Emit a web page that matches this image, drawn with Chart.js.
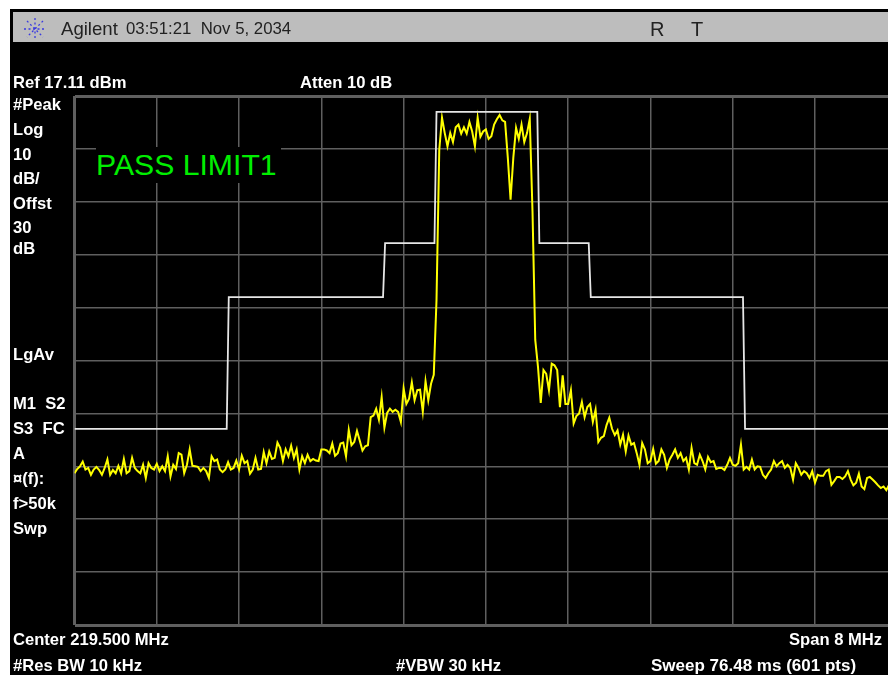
<!DOCTYPE html>
<html>
<head>
<meta charset="utf-8">
<title>Agilent spectrum trace</title>
<script src="https://cdn.jsdelivr.net/npm/chart.js@4"></script>
<style>
  html, body { margin: 0; padding: 0; background: #fff; overflow: hidden; }
  #screen { position: absolute; left: 10px; top: 9px; width: 878px; height: 666px; background: #000; }
  #header { position: absolute; left: 13px; top: 12px; width: 875px; height: 30px; background: #bdbdbd; }
  #plot { position: absolute; left: 0; top: 0; }
  .t { position: absolute; font-family: "Liberation Sans", Arial, sans-serif; white-space: pre; line-height: 20px; height: 20px; transform-origin: left center; }
  .w { color: #fff; font-weight: bold; font-size: 16.6px; }
  .h { color: #222; font-size: 18px; top: 19px; }
  #pass { left: 96px; top: 147px; height: 36px; line-height: 36px; padding-right: 4px; background: #000; color: #00ee00; font-size: 30.2px; }
  #logo { position: absolute; left: 23px; top: 17px; }
</style>
</head>
<body>
<div id="screen"></div>
<div id="header"></div>
<canvas id="plot" width="888" height="675"></canvas>

<svg id="logo" width="24" height="24" viewBox="0 0 24 24">
  <g stroke="#3a3ae0" stroke-width="1.3" stroke-dasharray="2 2.5">
    <line x1="12" y1="1" x2="12" y2="23"/><line x1="1" y1="12" x2="23" y2="12"/>
    <line x1="4" y1="4" x2="20" y2="20"/><line x1="20" y1="4" x2="4" y2="20"/>
  </g>
</svg>
<div class="t h" style="left:61px;font-size:18.6px">Agilent</div>
<div class="t h" style="left:126px;font-size:16.8px">03:51:21  Nov 5, 2034</div>
<div class="t h" style="left:650px;font-size:20px">R</div>
<div class="t h" style="left:691px;font-size:20px">T</div>

<div class="t w" style="left:13px;top:73px">Ref 17.11 dBm</div>
<div class="t w" style="left:300px;top:73px">Atten 10 dB</div>
<div class="t w" style="left:13px;top:95px">#Peak</div>
<div class="t w" style="left:13px;top:120px">Log</div>
<div class="t w" style="left:13px;top:145px">10</div>
<div class="t w" style="left:13px;top:169px">dB/</div>
<div class="t w" style="left:13px;top:194px">Offst</div>
<div class="t w" style="left:13px;top:218px">30</div>
<div class="t w" style="left:13px;top:239px">dB</div>
<div class="t w" style="left:13px;top:345px">LgAv</div>
<div class="t w" style="left:13px;top:394px">M1  S2</div>
<div class="t w" style="left:13px;top:419px">S3  FC</div>
<div class="t w" style="left:13px;top:444px">A</div>
<div class="t w" style="left:13px;top:469px">¤(f):</div>
<div class="t w" style="left:13px;top:494px">f&gt;50k</div>
<div class="t w" style="left:13px;top:519px">Swp</div>
<div class="t w" style="left:13px;top:630px">Center 219.500 MHz</div>
<div class="t w" style="left:789px;top:630px">Span 8 MHz</div>
<div class="t w" style="left:13px;top:656px">#Res BW 10 kHz</div>
<div class="t w" style="left:396px;top:656px">#VBW 30 kHz</div>
<div class="t w" style="left:651px;top:656px;font-size:17px">Sweep 76.48 ms (601 pts)</div>
<div class="t" id="pass">PASS LIMIT1</div>

<script>
const startFreq = 215.5;
const stopFreq = 223.41;   // the screenshot cuts the last division short
const sampleStep = 0.026667;

const freqTicks = [215.5, 216.3, 217.1, 217.9, 218.7, 219.5, 220.3, 221.1, 221.9, 222.7];
const levelTicks = [17.11, 7.11, -2.89, -12.89, -22.89, -32.89, -42.89, -52.89, -62.89, -72.89, -82.89];

// peak trace in dBm, every second sweep point
const traceLevels = [
  -54.2, -53.4, -52.9, -52.0, -53.5, -53.2, -54.5, -53.5, -53.0, -53.6,
  -54.5, -53.2, -51.6, -54.5, -53.6, -54.2, -52.8, -54.2, -51.5, -54.2,
  -53.8, -51.3, -53.2, -53.8, -54.2, -52.6, -55.1, -52.3, -53.2, -53.5,
  -52.4, -53.8, -52.9, -53.8, -51.0, -54.8, -52.6, -53.4, -50.4, -50.7,
  -54.2, -52.6, -49.7, -52.8, -52.9, -53.0, -53.8, -53.2, -53.8, -55.1,
  -51.0, -51.9, -51.6, -53.5, -54.0, -53.5, -52.1, -53.5, -53.2, -51.8,
  -53.5, -50.9, -52.3, -51.9, -54.3, -53.5, -51.3, -53.5, -53.4, -50.2,
  -52.3, -50.1, -51.5, -51.3, -48.4, -49.4, -51.9, -49.7, -51.0, -49.0,
  -51.3, -49.7, -53.5, -51.0, -52.3, -50.7, -51.9, -51.5, -51.8, -51.9,
  -49.7, -49.7, -49.9, -50.4, -48.6, -50.9, -50.4, -48.6, -48.4, -51.0,
  -46.0,
  -48.9, -48.3, -46.2, -48.0, -49.9, -49.1, -48.9, -43.6, -43.3, -42.0,
  -44.1, -39.8, -45.6, -42.8, -42.0, -42.6, -42.2, -42.6, -44.5, -38.2,
  -41.1, -40.1, -37.0, -40.4, -38.5, -38.4, -42.6, -36.8, -40.4, -37.3,
  -35.6, -21.4, 6.9,
  13.0, 10.1, 7.6, 10.1, 8.4, 11.2, 11.7, 10.0, 11.2, 10.0,
  12.2, 10.4, 7.6, 13.0, 9.4, 10.4, 10.8, 9.0, 9.5, 11.7,
  12.7, 13.5, 12.5, 12.2, 5.4, -2.5, 5.4, 11.1, 9.0, 11.7,
  8.4, 10.1, 12.8, -4.7,
  -29.0, -34.1, -40.9, -34.7, -35.4, -38.5, -33.5, -33.8, -34.7, -41.7,
  -35.7, -41.1, -41.1, -38.5, -44.8, -43.4, -42.9, -40.7, -43.6, -41.7,
  -41.1, -44.5, -42.2, -48.3, -47.5, -47.2, -45.1, -43.7, -45.8, -47.0,
  -46.1,
  -48.8, -46.9, -50.1, -47.1, -48.8, -48.5, -50.4, -52.6, -48.5, -49.7,
  -52.3, -51.9, -49.6, -52.4, -51.9, -49.7, -50.7, -53.2, -51.6, -50.7,
  -49.7, -51.3, -50.4, -51.9, -51.3, -53.5, -49.4, -52.3, -52.6, -50.7,
  -51.9, -53.5, -51.1, -52.1, -51.9, -53.4, -53.2, -53.2, -53.6, -52.6,
  -51.3, -52.6, -52.8, -52.3, -48.8, -53.5, -53.0, -53.5, -51.6, -53.5,
  -52.9, -53.0, -54.5, -55.1, -54.2, -53.5, -51.9, -52.9, -52.3, -51.9,
  -53.2, -52.6, -53.2, -55.4, -52.3, -53.2, -54.5, -53.8, -54.2, -55.1,
  -53.8, -56.0, -54.5, -54.7, -54.7, -53.8, -53.5, -56.4, -55.7, -54.9,
  -54.9, -55.3, -54.8, -53.8, -55.4, -56.5, -56.0, -54.3, -56.7, -57.2,
  -55.1, -54.9, -55.4, -55.9, -56.5, -57.0, -56.7, -57.4, -56.4
];

// limit line corners
const limitFreqs = [215.5, 216.98, 217.0, 218.5, 218.52, 219.0, 219.02, 220.0, 220.02, 220.5, 220.52, 222.0, 222.02, 223.41];
const limitLevels = [-45.8, -45.8, -20.9, -20.9, -10.7, -10.7, 14.1, 14.1, -10.7, -10.7, -20.9, -20.9, -45.8, -45.8];

const tracePoints = traceLevels.map((v, i) => ({ x: startFreq + i * sampleStep, y: v }));
const limitPoints = limitFreqs.map((f, i) => ({ x: f, y: limitLevels[i] }));

const gridColor = "#5f5f5f";

new Chart(document.getElementById("plot").getContext("2d"), {
  type: "scatter",
  data: {
    datasets: [
      { label: "Limit", data: limitPoints, showLine: true, borderColor: "#e6e6e6", borderWidth: 1.8, pointRadius: 0 },
      { label: "Trace", data: tracePoints, showLine: true, borderColor: "#ffff00", borderWidth: 2, pointRadius: 0 }
    ]
  },
  options: {
    responsive: false,
    animation: false,
    layout: { padding: { left: 74.5, top: 96, right: 0, bottom: 50 } },
    plugins: { legend: { display: false }, tooltip: { enabled: false } },
    scales: {
      x: {
        type: "linear",
        min: startFreq,
        max: stopFreq,
        afterBuildTicks: axis => { axis.ticks = freqTicks.map(v => ({ value: v })); },
        ticks: { display: false },
        border: { display: false },
        grid: {
          color: gridColor,
          drawTicks: false,
          lineWidth: c => (c.index === 0 ? 3 : 1.5)
        }
      },
      y: {
        type: "linear",
        min: -82.89,
        max: 17.11,
        afterBuildTicks: axis => { axis.ticks = levelTicks.map(v => ({ value: v })); },
        ticks: { display: false },
        border: { display: false },
        grid: {
          color: gridColor,
          drawTicks: false,
          lineWidth: c => (c.index === 0 || c.index === levelTicks.length - 1 ? 3 : 1.5)
        }
      }
    }
  }
});
</script>
</body>
</html>
